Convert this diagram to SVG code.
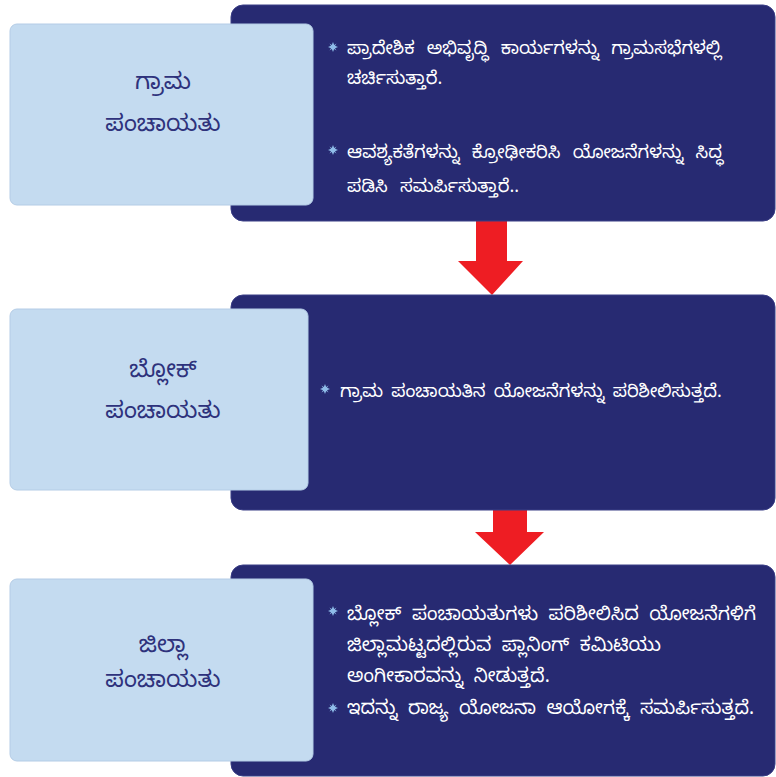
<svg xmlns="http://www.w3.org/2000/svg" width="776" height="777" viewBox="0 0 776 777">
<style>
.dark{fill:#272a72;stroke:#3a3e86;stroke-width:1}
.light{fill:#c4dbf0;stroke:#b4cce6;stroke-width:1}
.lbl{font-family:"Noto Sans Kannada","Noto Sans","Lato",sans-serif;font-size:23.5px;fill:#2e327c;text-anchor:middle}
.bt{font-family:"Noto Sans Kannada","Noto Sans","Lato",sans-serif;font-size:18px;fill:#ffffff;word-spacing:3px}
.w1{word-spacing:7px}
.b3{font-size:19px;word-spacing:5px}
.arrow{fill:#ee1d23}
</style>
<defs>
<g id="star">
<polygon points="0,-5 1.2,-2 3.5,-3.5 2,-1.2 5,0 2,1.2 3.5,3.5 1.2,2 0,5 -1.2,2 -3.5,3.5 -2,1.2 -5,0 -2,-1.2 -3.5,-3.5 -1.2,-2" fill="#8fbce9"/>
</g>
</defs>
<rect width="776" height="777" fill="#ffffff"/>
<g id="connectors">
<polygon class="arrow" points="476,221 507,221 507,261 523,261 492,295 458,261 476,261"/>
<polygon class="arrow" points="493,510 527,510 527,532 544,532 510,565 475,532 493,532"/>
</g>
<g id="node1">
<rect class="dark" x="231" y="5" width="544" height="216" rx="12"/>
<rect class="light" x="10" y="24" width="303" height="181" rx="7"/>
<text class="lbl" x="163" y="89">ಗ್ರಾಮ</text>
<text class="lbl" x="163" y="131">ಪಂಚಾಯತು</text>
<use href="#star" x="333" y="47"/>
<use href="#star" x="333" y="150"/>
<text class="bt w1" x="347" y="54">ಪ್ರಾದೇಶಿಕ ಅಭಿವೃದ್ಧಿ ಕಾರ್ಯಗಳನ್ನು ಗ್ರಾಮಸಭೆಗಳಲ್ಲಿ</text>
<text class="bt w1" x="347" y="84">ಚರ್ಚಿಸುತ್ತಾರೆ.</text>
<text class="bt w1" x="347" y="158">ಆವಶ್ಯಕತೆಗಳನ್ನು ಕ್ರೋಢೀಕರಿಸಿ ಯೋಜನೆಗಳನ್ನು ಸಿದ್ಧ</text>
<text class="bt w1" x="347" y="192">ಪಡಿಸಿ ಸಮರ್ಪಿಸುತ್ತಾರೆ..</text>
</g>
<g id="node2">
<rect class="dark" x="231" y="295" width="544" height="215" rx="12"/>
<rect class="light" x="10" y="309" width="298" height="181" rx="7"/>
<text class="lbl" x="163" y="377">ಬ್ಲೋಕ್</text>
<text class="lbl" x="163" y="418">ಪಂಚಾಯತು</text>
<use href="#star" x="325" y="389"/>
<text class="bt" x="340" y="397">ಗ್ರಾಮ ಪಂಚಾಯತಿನ ಯೋಜನೆಗಳನ್ನು ಪರಿಶೀಲಿಸುತ್ತದೆ.</text>
</g>
<g id="node3">
<rect class="dark" x="231" y="565" width="544" height="211" rx="12"/>
<rect class="light" x="10" y="579" width="303" height="182" rx="7"/>
<text class="lbl" x="163" y="652">ಜಿಲ್ಲಾ</text>
<text class="lbl" x="163" y="687">ಪಂಚಾಯತು</text>
<use href="#star" x="333" y="611"/>
<use href="#star" x="333" y="708"/>
<text class="bt b3" x="347" y="620">ಬ್ಲೋಕ್ ಪಂಚಾಯತುಗಳು ಪರಿಶೀಲಿಸಿದ ಯೋಜನೆಗಳಿಗೆ</text>
<text class="bt b3" x="347" y="651">ಜಿಲ್ಲಾಮಟ್ಟದಲ್ಲಿರುವ ಪ್ಲಾನಿಂಗ್ ಕಮಿಟಿಯು</text>
<text class="bt b3" x="347" y="682">ಅಂಗೀಕಾರವನ್ನು ನೀಡುತ್ತದೆ.</text>
<text class="bt b3" x="347" y="714">ಇದನ್ನು ರಾಜ್ಯ ಯೋಜನಾ ಆಯೋಗಕ್ಕೆ ಸಮರ್ಪಿಸುತ್ತದೆ.</text>
</g>
</svg>
